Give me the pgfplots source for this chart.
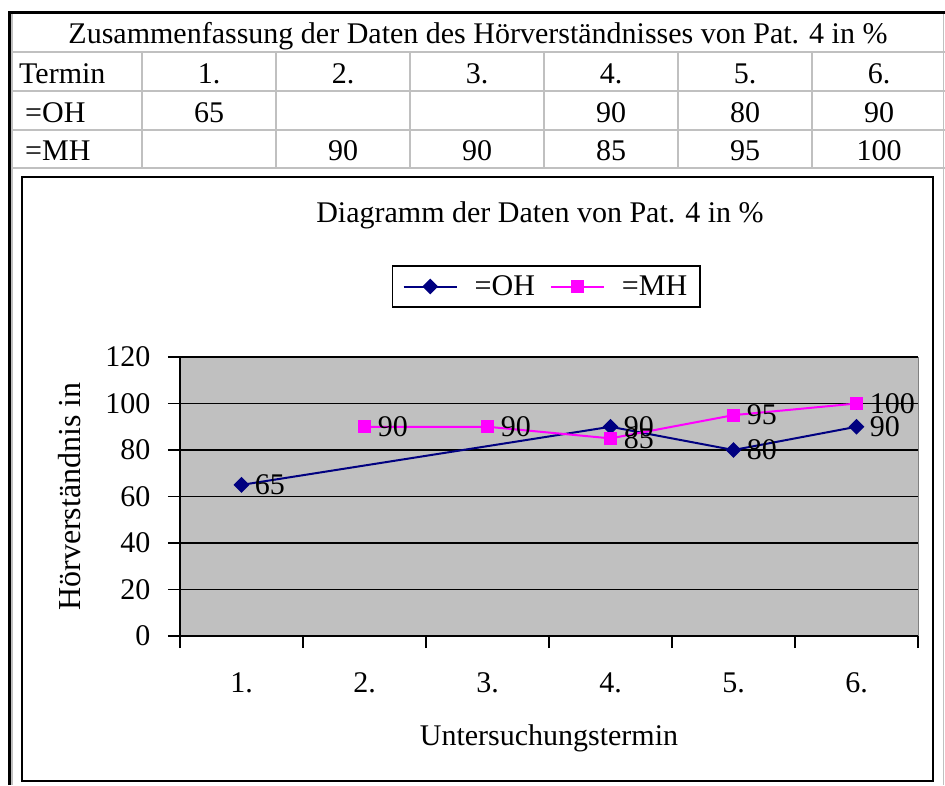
\documentclass[border=0pt]{standalone}
\usepackage{fontspec}
\setmainfont{Liberation Serif}
\usepackage{pgfplots}
\pgfplotsset{compat=1.18}
\definecolor{xlgray}{HTML}{C0C0C0}
\definecolor{ohblue}{HTML}{000080}
\definecolor{mhpink}{HTML}{FF00FF}
\newcommand{\bigtxt}{\fontsize{30}{34}\selectfont}

\begin{document}
\begin{tikzpicture}[font=\bigtxt]
\path[use as bounding box] (0,0) rectangle (945pt,-785pt);
\fill[white] (0,0) rectangle (945pt,-785pt);
\begin{scope}[x=1pt,y=-1pt]
  % table grid
  \draw[xlgray, line width=1.6pt]
    (12,52) -- (945,52) (12,91) -- (945,91) (12,130) -- (945,130) (12,168) -- (945,168)
    (12,12) -- (12,785) (943.5,12) -- (943.5,785);
  \foreach \x in {142,276,410,544,678,812}
    \draw[xlgray, line width=1.6pt] (\x,52) -- (\x,168);
  \draw[black, line width=3pt] (9.5,785) -- (9.5,12.5) -- (945,12.5);
  \draw[black, line width=2.5pt] (22,177) rectangle (933,781);
  % table text
  \node[anchor=base] at (478,43) {Zusammenfassung der Daten des Hörverständnisses von Pat. 4 in \%};
  \node[anchor=base west, inner sep=0pt] at (19,83) {Termin};
  \node[anchor=base west, inner sep=0pt] at (25,122) {=OH};
  \node[anchor=base west, inner sep=0pt] at (25,160) {=MH};
  \foreach \x/\t in {209/1., 343/2., 477/3., 611/4., 745/5., 879/6.}
    \node[anchor=base] at (\x,83) {\t};
  \foreach \x/\t in {209/65, 611/90, 745/80, 879/90}
    \node[anchor=base] at (\x,122) {\t};
  \foreach \x/\t in {343/90, 477/90, 611/85, 745/95, 879/100}
    \node[anchor=base] at (\x,160) {\t};
  % chart title
  \node[anchor=base] at (540,222) {Diagramm der Daten von Pat. 4 in \%};
\end{scope}

\begin{axis}[
    at={(180pt,-636pt)}, anchor=south west,
    scale only axis, width=738pt, height=279pt,
    xmin=0.5, xmax=6.5, ymin=0, ymax=120,
    axis x line*=bottom, axis y line*=left,
    axis line style={black, line width=1.5pt},
    axis background/.style={fill=xlgray, draw=gray, line width=1pt},
    ytick={0,20,...,120},
    ymajorgrids, grid style={black, line width=1.5pt},
    tick align=outside, major tick length=12pt,
    tick style={black, line width=1.5pt},
    yticklabel style={xshift=-14pt},
    xtick={0.5,1.5,...,6.5}, xticklabels={},
    extra x ticks={1,2,3,4,5,6},
    extra x tick labels={1.,2.,3.,4.,5.,6.},
    extra x tick style={major tick length=0pt, xticklabel style={yshift=-33pt}},
    /pgf/number format/assume math mode=true,
    tick label style={font=\bigtxt},
    label style={font=\bigtxt},
    xlabel={Untersuchungstermin},
    xlabel style={at={(axis description cs:0.5,-0.366)}, anchor=center},
    ylabel={Hörverständnis in},
    ylabel style={at={(axis description cs:-0.149,0.5)}, anchor=center,
        font=\fontsize{32}{36}\selectfont},
    legend style={at={(axis description cs:0.4966,1.2527)}, anchor=center,
        draw=black, line width=1.5pt, fill=white, font=\bigtxt,
        inner xsep=10pt, inner ysep=7pt, nodes={inner sep=3pt},
        /tikz/every odd column/.append style={column sep=14pt},
        /tikz/every even column/.append style={column sep=12pt}},
    legend columns=2,
    legend image code/.code={\draw[mark repeat=2, mark phase=2, #1]
        plot coordinates {(0pt,0pt) (26.5pt,0pt) (53pt,0pt)};},
    every node near coord/.append style={anchor=west, text=black, xshift=9pt, font=\bigtxt},
]
\addplot[ohblue, line width=2pt, mark=diamond*, mark size=6.5pt,
    mark options={xscale=1.33, solid}, nodes near coords]
    coordinates {(1,65) (4,90) (5,80) (6,90)};
\addlegendentry{=OH}
\addplot[mhpink, line width=2pt, mark=square*, mark size=5.5pt,
    mark options={solid}, nodes near coords]
    coordinates {(2,90) (3,90) (4,85) (5,95) (6,100)};
\addlegendentry{=MH}
\end{axis}
\end{tikzpicture}
\end{document}
